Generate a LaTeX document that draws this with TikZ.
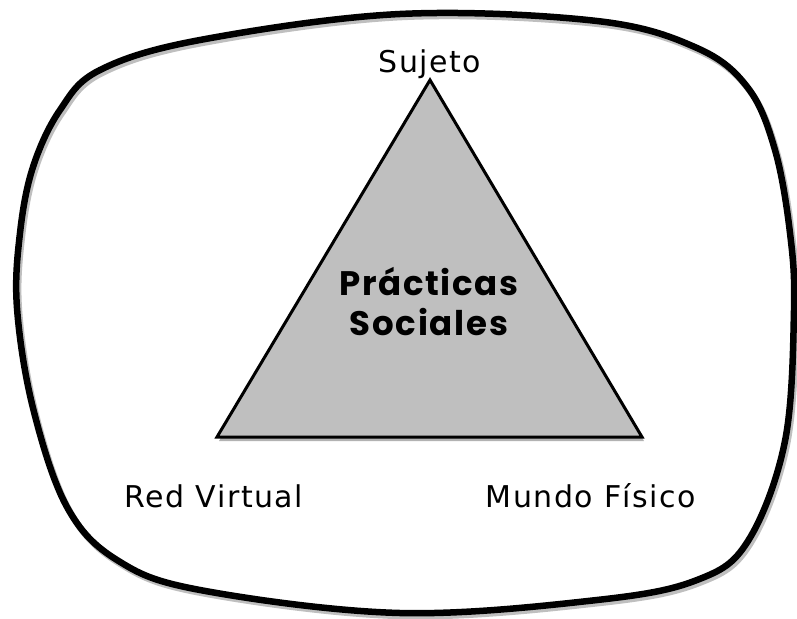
\documentclass[tikz,border=0pt]{standalone}
\usepackage{fontspec}
\setmainfont{DejaVu Sans}[LetterSpace=5]
\newfontfamily\handfont{Poppins}[LetterSpace=5]
\usetikzlibrary{positioning}

\begin{document}
\begin{tikzpicture}[x=1pt, y=-1pt, node distance=10pt,
    outline/.style={line width=6.5pt, line join=round, smooth cycle, tension=0.6},
    corner/.style={line width=3pt, line join=miter},
    lbl/.style={font=\fontsize{30}{36}\selectfont, inner sep=0pt},
    hand/.style={font=\handfont\bfseries\fontsize{34}{40}\selectfont, align=center, inner sep=0pt}]
    \useasboundingbox (0,0) rectangle (797,618);
    % outer frame, shadow first
    \draw[outline, black!25] plot coordinates {(402,17) (599,24) (699,51) (750,91) (777,153) (792,236) (796,313) (787,444) (750,544) (699,583) (599,603) (402,616) (202,593) (119,563) (69,510) (35,411) (19,311) (22,236) (35,170) (62,113) (102,73) (202,43)};
    \draw[outline, black] plot coordinates {(400,14) (597,21) (697,48) (748,88) (775,150) (790,233) (794,310) (785,441) (748,541) (697,580) (597,600) (400,613) (200,590) (117,560) (67,507) (33,408) (17,308) (20,233) (33,167) (60,110) (100,70) (200,40)};
    % triangle
    \coordinate (apex) at (430,80);
    \coordinate (left) at (217,437);
    \coordinate (right) at (642,437);
    \fill[black!30] ([shift={(2,4)}]apex) -- ([shift={(2,4)}]left) -- ([shift={(2,4)}]right) -- cycle;
    \draw[corner, fill={rgb,255:red,191;green,191;blue,191}] (apex) -- (left) -- (right) -- cycle;
    % labels
    \node[lbl, above=8pt of apex, anchor=base] (sujeto) {Sujeto};
    \node[lbl, below=70pt of left, anchor=base, xshift=-3pt] (red) {Red Virtual};
    \node[lbl, below=70pt of right, anchor=base, xshift=-51pt] (mundo) {Mundo Físico};
    \node[hand] (practicas) at (429,302) {Prácticas\\Sociales};
\end{tikzpicture}
\end{document}
